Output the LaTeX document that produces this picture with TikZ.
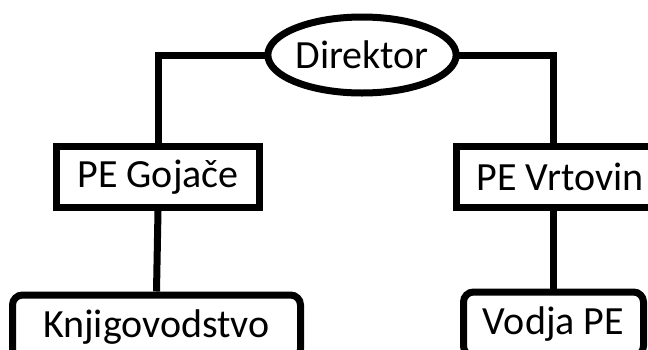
\documentclass[tikz,border=0pt]{standalone}
\usepackage{fontspec}
\setmainfont{Carlito}
\usetikzlibrary{positioning,shapes.geometric}

\begin{document}
\begin{tikzpicture}[
    x=1pt, y=1pt,
    line width=7pt,
    every node/.style={font=\fontsize{40}{47}\selectfont},
    boss/.style={ellipse, draw, inner sep=0pt, minimum width=184pt, minimum height=76pt},
    unit/.style={rectangle, draw, inner sep=0pt, minimum width=203pt, minimum height=61pt},
    job/.style={rectangle, draw, rounded corners=10pt, inner sep=0pt, minimum height=64pt},
    link/.style={line cap=rect}
]
\useasboundingbox (0,0) rectangle (648,-349);
\clip (0,0) rectangle (648,-349);

% Director
\node[boss] (dir) at (362,-55) {Direktor};

% Units
\node[unit] (goj) at (158,-177) {PE Gojače};
\node[unit, minimum width=207pt] (vrt) at (560,-177) {PE Vrtovin};

% Jobs
\node[job, minimum width=288pt, anchor=north] (knj) at (156.5,-291.5) {Knjigovodstvo};
\node[job, minimum width=180pt, anchor=north] (vod) at (553.5,-288.5) {Vodja PE};

% Connectors
\draw[link] (dir.west) -| (goj.north);
\draw[link] (dir.east) -| (vod.north |- vrt.north);
\draw (goj.south) -- (knj.north);
\draw (vod.north |- vrt.south) -- (vod.north);

\end{tikzpicture}
\end{document}
